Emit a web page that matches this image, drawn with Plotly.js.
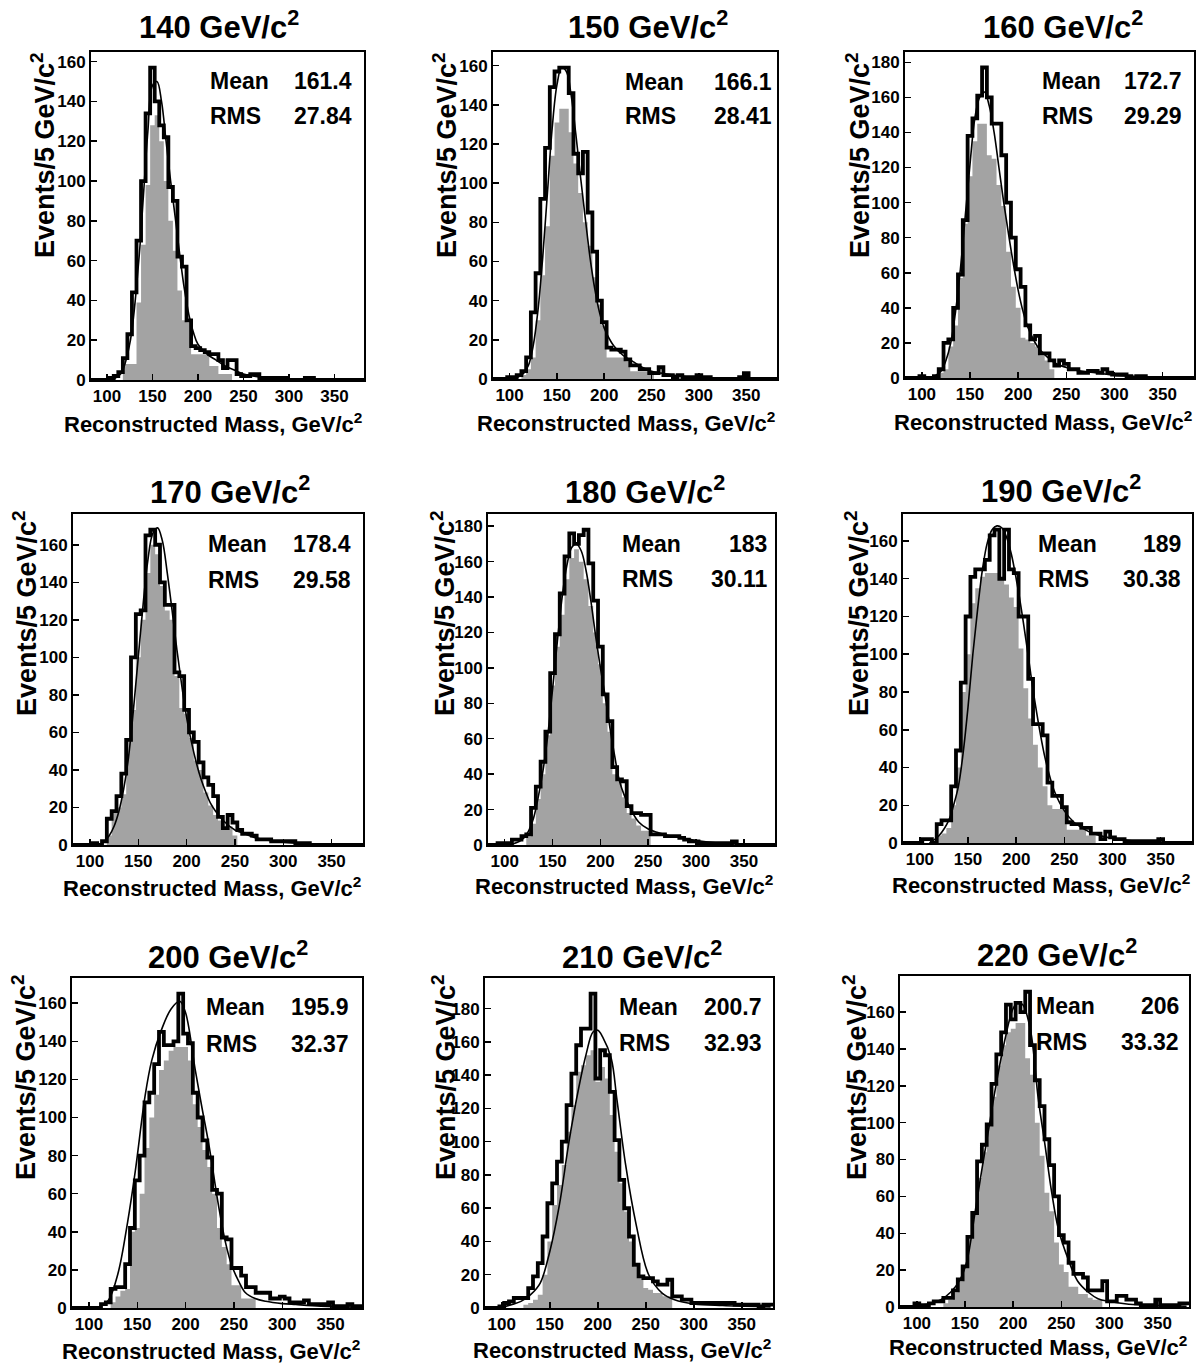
<!DOCTYPE html>
<html><head><meta charset="utf-8">
<script src="https://cdn.plot.ly/plotly-3.0.1.min.js"></script>
<style>html,body{margin:0;padding:0;background:#fff}</style>
</head><body>
<div id="chart" style="width:1199px;height:1363px"></div>
<script>
// bin centres (5 GeV/c^2 bins)
const massBins = [85,90,95,100,105,110,115,120,125,130,135,140,145,150,155,160,165,170,175,180,185,190,195,200,205,210,215,220,225,230,235,240,245,250,255,260,265,270,275,280,285,290,295,300,305,310,315,320,325,330,335,340,345,350,355,360,365,370,375,380];

const topMasses = ['140','150','160','170','180','190','200','210','220'];
const meanVals = ['161.4','166.1','172.7','178.4','183','189','195.9','200.7','206'];
const rmsVals  = ['27.84','28.41','29.29','29.58','30.11','30.38','32.37','32.93','33.32'];

// all-combination histograms (thick outline)
const h140 = [0,0,0,0,1,2,4,11,23,44,70,100,134,157,140,128,122,97,90,62,57,30,17,16,15,14,13,13,10,6,10,10,3,2,2,3,3,1,1,1,1,1,1,0,0,0,0,1,1,0,0,0,0,0,0,0,0,0,0,0];
const h150 = [0,0,0,1,1,2,4,11,34,54,92,118,149,157,159,159,146,115,105,116,85,65,40,29,16,15,15,14,10,7,7,5,5,3,3,6,2,2,1,2,1,1,1,2,1,1,0,0,0,0,0,0,1,3,0,0,0,0,0,0];
const h160 = [0,0,0,1,0,0,1,5,20,22,40,59,90,138,148,161,177,160,145,145,127,100,80,62,52,30,22,24,14,14,10,7,10,8,5,5,3,3,4,4,3,5,3,2,2,2,1,0,1,1,0,0,0,0,0,0,0,0,0,0];
const h170 = [0,0,0,0,1,0,2,14,18,26,38,56,100,123,125,165,168,160,140,128,128,92,90,72,60,55,44,36,32,26,15,9,16,12,8,6,6,5,3,3,3,2,2,2,2,2,1,1,1,0,0,0,0,0,0,0,0,0,0,0];
const h180 = [0,0,1,1,1,3,3,5,6,21,33,47,64,97,119,142,163,176,170,175,178,159,138,112,85,70,44,37,36,22,18,18,17,17,6,6,6,5,5,5,4,3,2,2,1,1,1,1,1,1,1,2,0,0,0,0,0,0,0,0];
const h190 = [0,0,0,0,2,2,0,10,12,12,30,49,85,120,141,145,145,150,163,166,140,166,145,143,120,120,87,63,63,57,32,25,25,19,11,10,10,8,8,5,5,2,6,3,2,2,1,1,1,1,1,1,1,2,0,0,0,0,0,0];
const h200 = [0,0,0,0,0,0,2,3,10,11,11,23,42,67,80,108,113,128,145,138,138,140,165,144,139,113,100,88,79,62,60,37,36,21,21,17,11,11,8,8,8,5,5,6,5,3,3,3,4,2,2,2,2,3,1,1,1,2,1,1];
const h210 = [0,0,0,1,3,4,6,6,6,12,19,27,43,63,75,88,100,122,141,158,168,168,189,138,155,152,130,101,77,60,43,26,19,18,18,16,14,14,17,7,7,5,5,3,3,3,3,3,3,3,3,3,2,2,2,2,2,1,2,2];
const h220 = [0,0,0,2,1,1,2,3,3,5,5,9,15,22,38,51,79,88,99,121,137,149,164,156,165,160,171,142,123,109,91,77,60,39,35,24,18,18,16,9,9,9,14,3,3,6,6,4,4,2,1,1,1,4,1,1,1,1,2,2];

// correct-combination histograms (stippled), first bin centre + contents
const s140Start = 120, s140 = [8,8,8,39,68,98,128,133,120,100,80,65,45,30,29,13,13,13,13,7,7,3,3,3];
const s150Start = 115, s150 = [2,5,11,30,53,78,114,131,138,138,126,110,95,80,68,52,38,27,11,11,11,11,9,4,4,4,4,2];
const s160Start = 120, s160 = [3,5,18,30,57,88,115,135,145,145,127,125,110,98,72,52,40,23,22,20,18,13,10,5];
const s170Start = 120, s170 = [5,17,20,27,56,72,100,120,145,160,155,138,125,120,90,73,70,57,45,40,28,21,16,13,8,10,5];
const s180Start = 125, s180 = [5,12,26,40,62,90,112,130,150,162,167,160,150,135,120,102,80,64,40,36,27,18,15,11,8,8];
const s190Start = 120, s190 = [4,5,8,20,40,80,100,127,135,141,143,143,143,140,137,130,125,103,82,66,52,40,30,20,18,18,18,7,7,7,7,4,4];
const s200Start = 125, s200 = [3,6,9,10,40,42,60,84,100,112,125,130,135,137,137,137,130,107,95,83,74,60,42,32,23,12,12,5,5,5];
const s210Start = 125, s210 = [2,3,5,8,20,40,62,74,86,106,122,142,146,152,155,136,145,138,116,94,75,58,40,25,18,12,11,9,9,7,7];
const s220Start = 130, s220 = [2,4,8,14,22,37,50,70,84,98,114,131,142,149,151,154,154,135,126,100,82,62,52,35,23,19,11,11,7,7,5,4,4];

// fitted curves
const f140x = [105,115,125,135,140,145,150,155,160,165,170,175,180,185,190,195,200,210,220,230,240,250,260,280,300,340,380];
const f140y = [0,3,18,60,92,125,148,150,140,120,100,82,63,46,33,24,18,13,10,7,5,3,2,1,0.5,0.1,0];
const f150x = [105,115,120,125,130,135,140,145,150,155,160,165,170,175,180,185,190,195,200,210,220,230,240,250,260,280,300,350,380];
const f150y = [0,3,7,17,35,62,95,128,150,159,157,145,125,103,82,62,46,34,26,17,12,9,6,4,3,1.5,0.7,0.1,0];
const f160x = [110,120,125,130,135,140,145,150,155,160,165,170,175,180,185,190,195,200,205,210,220,230,240,250,260,270,280,300,320,350,380];
const f160y = [0,4,10,20,38,62,92,122,148,160,163,155,140,120,100,82,65,50,38,29,18,12,8,6,4.5,3.5,3,1.5,1,0.3,0.1];
const f170x = [110,115,120,125,130,135,140,145,150,155,160,165,170,175,180,185,190,195,200,205,210,215,220,225,230,240,250,260,270,280,300,330,380];
const f170y = [0,2,5,10,18,30,47,72,100,128,152,166,169,162,145,125,104,85,68,55,44,35,28,22,18,12,8,6,4,3,1.5,0.5,0.1];
const f180x = [105,115,120,125,130,135,140,145,150,155,160,165,170,175,180,185,190,195,200,205,210,215,220,225,230,240,250,260,270,280,290,300,320,350,380];
const f180y = [0,2,4,8,15,27,42,62,88,115,140,158,168,170,166,155,138,118,100,84,66,50,36,28,22,13,9,7,5.5,4.5,3.5,2.5,1.2,0.4,0.1];
const f190x = [110,120,130,135,140,145,150,155,160,165,170,175,180,185,190,195,200,205,210,215,220,225,230,235,240,250,260,270,280,290,300,320,350,380];
const f190y = [0,4,12,20,30,48,72,100,124,145,159,166,168,167,162,153,140,125,108,90,73,58,45,35,27,17,11,7.5,5,3.5,2.5,1.2,0.4,0.1];
const f200x = [110,120,130,140,148,158,165,175,185,194,200,210,217,224,234,241,248,255,262,272,283,300,314,340,380];
const f200y = [0.5,4,18,45,72,111,130,146,157,161,155,125,105,86,54,35,22,14,8,5,3.5,2.3,1.8,1,0.4];
const f210x = [100,110,120,130,140,150,160,170,180,188,195,200,205,214,220,229,240,253,267,280,300,330,380];
const f210y = [0.5,2,4,8,15,34,62,100,132,153,166,167,163,150,125,86,50,20,9,5,2.5,1.5,0.7];
const f220x = [105,115,125,135,145,152,160,167,175,181,191,200,205,210,218,226,233,240,247,257,267,278,288,300,320,350,380];
const f220y = [1,2,4,8,15,25,50,73,98,117,144,162,165,164,150,113,88,62,42,26,14,8,4.5,3,1.5,0.8,0.4];

const mains = [h140,h150,h160,h170,h180,h190,h200,h210,h220];
const shades = [[s140Start,s140],[s150Start,s150],[s160Start,s160],[s170Start,s170],[s180Start,s180],[s190Start,s190],[s200Start,s200],[s210Start,s210],[s220Start,s220]];
const fitsX = [f140x,f150x,f160x,f170x,f180x,f190x,f200x,f210x,f220x];
const fitsY = [f140y,f150y,f160y,f170y,f180y,f190y,f200y,f210y,f220y];

// ---------- layout geometry (pixels) ----------
const W = 1199, H = 1363;
const frames = [[91,364,52,380],[493,777,52,379],[905,1194,52,378],[73,363,514,845],[488,775,514,845],[903,1192,514,843],[72,362,978,1308],[485,773,978,1308],[900,1189,976,1307]];
const titleXY = [[219,25],[648,25],[1063,25],[230,490],[645,490],[1061,489],[228,955],[642,955],[1057,953]];
const meanLeft = [208,623,1040,206,620,1036,204,617,1034];
const valRight = [354,774,1184,353,769,1183,351,764,1181];
const meanY = [81,82,81,544,544,544,1007,1007,1006];
const rmsY = [116,116,116,580,579,579,1044,1043,1042];
const xTitleY = [423,422,421,887,885,884,1350,1349,1346];
const yTitleX = [43,445,858,25,443,857,24,444,855];
const yTitleY = [155,155,155,613,613,613,1077,1077,1077];

const FONT = 'Liberation Sans, Arial, Helvetica, sans-serif';
const px = v => v / W;
const py = v => 1 - v / H;

function steps(centers, vals) {
  const x = [], y = [];
  for (let i = 0; i < vals.length; i++) { x.push(centers[i] - 2.5); y.push(vals[i]); }
  x.push(centers[vals.length - 1] + 2.5); y.push(vals[vals.length - 1]);
  return {x, y};
}
function placeShade(start, vals) {
  return massBins.map(c => {
    const k = Math.round((c - start) / 5);
    return (k >= 0 && k < vals.length) ? vals[k] : 0;
  });
}

const traces = [];
const layout = {
  width: W, height: H, margin: {l:0, r:0, t:0, b:0},
  paper_bgcolor: '#fff', plot_bgcolor: '#fff', showlegend: false,
  font: {family: FONT, color: '#000'},
  annotations: []
};

for (let i = 0; i < 9; i++) {
  const sfx = i === 0 ? '' : String(i + 1);
  const xa = 'x' + sfx, ya = 'y' + sfx;
  const [L, R, T, B] = frames[i];
  const shade = steps(massBins, placeShade(shades[i][0], shades[i][1]));
  traces.push({
    x: shade.x, y: shade.y, xaxis: xa, yaxis: ya, type: 'scatter', mode: 'lines',
    line: {shape: 'hv', width: 0, color: 'rgba(0,0,0,0)'},
    fill: 'tozeroy', fillcolor: '#ffffff',
    fillpattern: {shape: '.', fgcolor: '#1a1a1a', bgcolor: '#ffffff', size: 2, solidity: 0.45},
    hoverinfo: 'skip'
  });
  const m = steps(massBins, mains[i]);
  traces.push({
    x: m.x, y: m.y, xaxis: xa, yaxis: ya, type: 'scatter', mode: 'lines',
    line: {shape: 'hv', width: 3.8, color: '#000'}
  });
  traces.push({
    x: fitsX[i], y: fitsY[i], xaxis: xa, yaxis: ya, type: 'scatter', mode: 'lines',
    line: {shape: 'spline', smoothing: 1, width: 1.6, color: '#000'}
  });
  const ymax = 1.05 * Math.max(...mains[i]);
  const common = {
    showline: true, mirror: true, linewidth: 2, linecolor: '#000',
    showgrid: false, zeroline: false, ticks: 'inside', ticklen: 6, tickwidth: 1.5, tickcolor: '#000',
    tickfont: {family: FONT, size: 17, color: '#000', weight: 'bold'}, fixedrange: true
  };
  layout['xaxis' + sfx] = Object.assign({}, common, {
    domain: [px(L), px(R)], range: [82.5, 382.5], anchor: ya, tick0: 0, dtick: 50
  });
  layout['yaxis' + sfx] = Object.assign({}, common, {
    domain: [py(B), py(T)], range: [0, ymax], anchor: xa, tick0: 0, dtick: 20
  });
  const ann = layout.annotations;
  ann.push({xref:'paper', yref:'paper', x: px(titleXY[i][0]), y: py(titleXY[i][1]), xanchor:'center', yanchor:'middle',
    text: '<b>' + topMasses[i] + ' GeV/c<sup>2</sup></b>', showarrow:false, font:{family:FONT, size:31, color:'#000'}});
  ann.push({xref:'paper', yref:'paper', x: px(meanLeft[i]), y: py(meanY[i]), xanchor:'left', yanchor:'middle',
    text: '<b>Mean</b>', showarrow:false, font:{family:FONT, size:23, color:'#000'}});
  ann.push({xref:'paper', yref:'paper', x: px(valRight[i]), y: py(meanY[i]), xanchor:'right', yanchor:'middle',
    text: '<b>' + meanVals[i] + '</b>', showarrow:false, font:{family:FONT, size:23, color:'#000'}});
  ann.push({xref:'paper', yref:'paper', x: px(meanLeft[i]), y: py(rmsY[i]), xanchor:'left', yanchor:'middle',
    text: '<b>RMS</b>', showarrow:false, font:{family:FONT, size:23, color:'#000'}});
  ann.push({xref:'paper', yref:'paper', x: px(valRight[i]), y: py(rmsY[i]), xanchor:'right', yanchor:'middle',
    text: '<b>' + rmsVals[i] + '</b>', showarrow:false, font:{family:FONT, size:23, color:'#000'}});
  ann.push({xref:'paper', yref:'paper', x: px(R), y: py(xTitleY[i]), xanchor:'right', yanchor:'middle',
    text: '<b>Reconstructed Mass, GeV/c<sup>2</sup></b>', showarrow:false, font:{family:FONT, size:22, color:'#000'}});
  ann.push({xref:'paper', yref:'paper', x: px(yTitleX[i]), y: py(yTitleY[i]), xanchor:'center', yanchor:'middle', textangle:-90,
    text: '<b>Events/5 GeV/c<sup>2</sup></b>', showarrow:false, font:{family:FONT, size:27, color:'#000'}});
}

Plotly.newPlot('chart', traces, layout, {staticPlot: true, displayModeBar: false});
</script>
</body></html>
